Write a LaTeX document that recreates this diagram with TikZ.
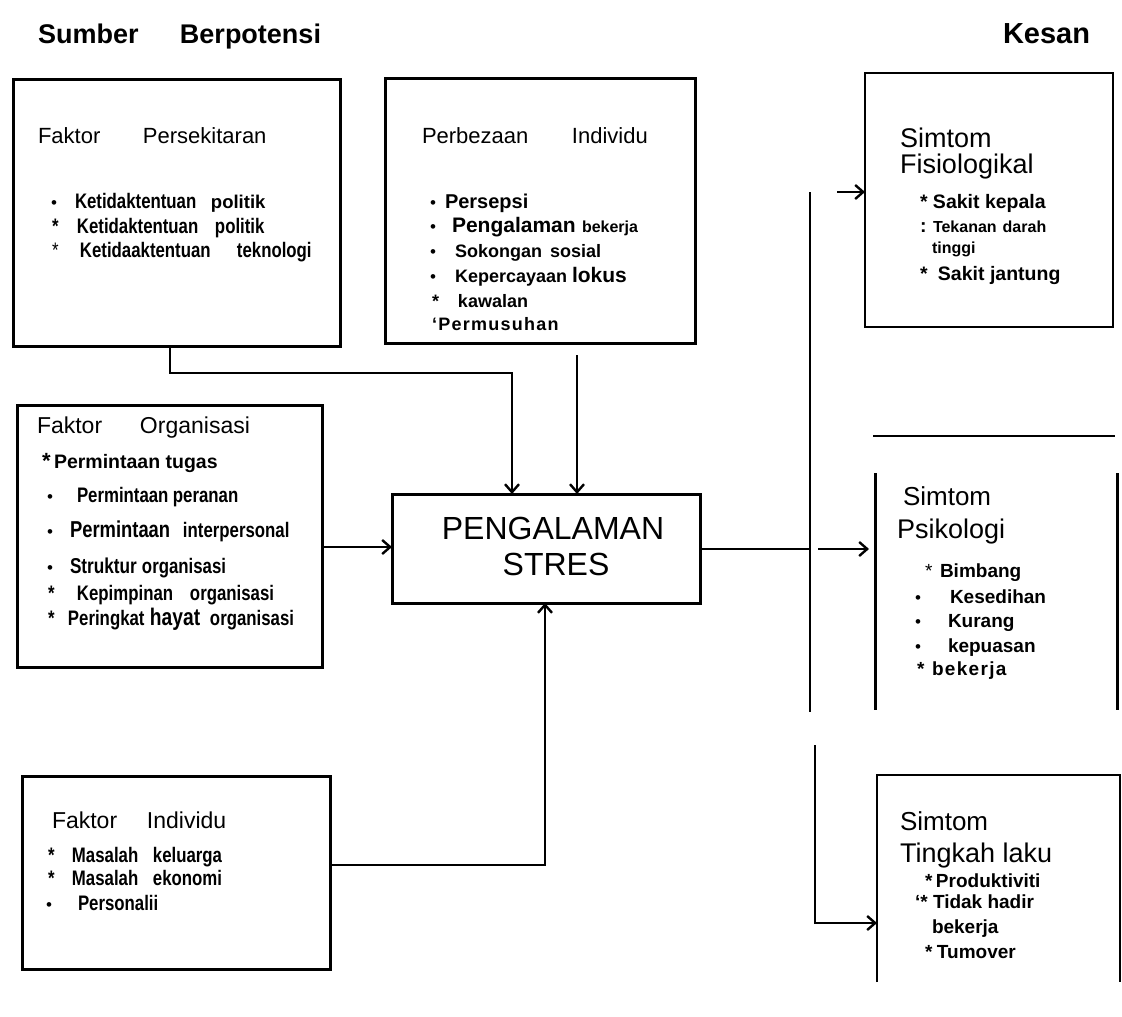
\documentclass[tikz,border=0pt]{standalone}
\usepackage{fontspec}
\setmainfont{Liberation Sans}
\newfontfamily\cf[FakeStretch=0.8]{Liberation Sans}
\usetikzlibrary{arrows.meta}
\newcommand\fsz[1]{\fontsize{#1}{#1}\selectfont}
\newcommand\lbx[2]{\makebox[#1pt][l]{#2}}
\newcommand\bul{{\normalfont\fsz{17}\textbullet}}
\tikzset{
  box/.style={draw, line width=3pt, inner sep=0pt, outer sep=0pt, anchor=north west},
  thinbox/.style={box, line width=2pt},
  openbox/.style={inner sep=0pt, outer sep=0pt, anchor=north west},
  txt/.style={anchor=base west, inner sep=0pt, outer sep=0pt},
  conn/.style={line width=2.6pt},
  arr/.style={line width=2.4pt, -{Straight Barb[length=8pt,width=14pt]}},
  ttl/.style={txt, font=\fsz{22}},
  ione/.style={txt, font=\cf\bfseries\fsz{21}},
  itwo/.style={txt, font=\bfseries\fsz{18}},
  ithree/.style={txt, font=\bfseries\fsz{19.5}},
  simt/.style={txt, font=\fsz{26}},
}
\begin{document}
\begin{tikzpicture}[x=1pt,y=-1pt]
\fill[white] (0,0) rectangle (1122,1017);
\useasboundingbox (0,0) rectangle (1122,1017);

% headings
\node[txt, font=\bfseries\fsz{27}] (h1) at (38,43) {\lbx{142}{Sumber}Berpotensi};
\node[txt, font=\bfseries\fsz{29}] (h2) at (1003,43) {Kesan};

% boxes
\node[box, minimum width=327pt, minimum height=267pt] (b1) at (13,79) {};
\node[box, minimum width=310pt, minimum height=265pt] (b2) at (385,78) {};
\node[thinbox, minimum width=248pt, minimum height=254pt] (b3) at (865,73) {};
\node[box, minimum width=305pt, minimum height=262pt] (b4) at (17,405) {};
\node[box, minimum width=308pt, minimum height=109pt] (c) at (392,494) {};
\node[box, minimum width=308pt, minimum height=193pt] (b5) at (22,776) {};
\node[openbox, minimum width=242pt, minimum height=237pt] (psi) at (875,473) {};
\node[openbox, minimum width=243pt, minimum height=207pt] (tl) at (877,775) {};
\draw[line width=3pt] (psi.north west) -- (psi.south west) (psi.north east) -- (psi.south east);
\draw[conn] ([xshift=-2pt,yshift=37pt]psi.north west) -- ([xshift=-2pt,yshift=37pt]psi.north east);
\draw[line width=2pt] (tl.south west) -- (tl.north west) -- (tl.north east) -- (tl.south east);

% box 1
\node[ttl] (b1t) at (38,143) {\lbx{105}{Faktor}Persekitaran};
\node[ione] (b1a) at (51,208) {\lbx{24}{\bul}\lbx{136}{Ketidaktentuan}{\normalfont\bfseries\fsz{18.5}politik}};
\node[ione] (b1b) at (52,233) {\lbx{25}{*}\lbx{138}{Ketidaktentuan}politik};
\node[ione] (b1c) at (52,257) {\lbx{28}{\mdseries *}\lbx{157}{Ketidaaktentuan}teknologi};

% box 2
\node[ttl] (b2t) at (422,143) {\lbx{150}{Perbezaan}Individu};
\node[itwo] (b2a) at (430,208) {\lbx{15}{\bul}{\fsz{20}Persepsi}};
\node[itwo] (b2b) at (430,232) {\lbx{22}{\bul}\lbx{130}{\fsz{21}Pengalaman}{\fsz{16}bekerja}};
\node[itwo] (b2c) at (430,257) {\lbx{25}{\bul}\lbx{95}{Sokongan}sosial};
\node[itwo] (b2d) at (430,282) {\lbx{25}{\bul}\lbx{117}{Kepercayaan}{\fsz{21}lokus}};
\node[itwo] (b2e) at (432,307) {\lbx{26}{*}kawalan};
\node[itwo] (b2f) at (432,330) {\addfontfeatures{LetterSpace=7}`Permusuhan};

% box 3
\node[txt, font=\fsz{27}] (b3t1) at (900,147) {Simtom};
\node[txt, font=\fsz{27}] (b3t2) at (900,173) {Fisiologikal};
\node[ithree] (b3a) at (920,208) {\lbx{13}{*}Sakit kepala};
\node[ithree] (b3b) at (920,232) {\lbx{13}{:}{\fsz{16}Tekanan\hspace{6pt}darah}};
\node[ithree] (b3c) at (932,253) {\fsz{16}tinggi};
\node[ithree] (b3d) at (920,280) {\lbx{18}{*}Sakit jantung};

% Psikologi
\node[simt] (p1) at (903,505) {Simtom};
\node[simt, font=\fsz{27}] (p2) at (897,538) {Psikologi};
\node[txt, font=\bfseries\fsz{19}] (pa) at (925,577) {\lbx{15}{\mdseries *}Bimbang};
\node[txt, font=\bfseries\fsz{19}] (pb) at (915,603) {\lbx{35}{\bul}Kesedihan};
\node[txt, font=\bfseries\fsz{19}] (pc) at (915,627) {\lbx{33}{\bul}Kurang};
\node[txt, font=\bfseries\fsz{19}] (pd) at (915,652) {\lbx{33}{\bul}kepuasan};
\node[txt, font=\bfseries\fsz{19}] (pe) at (917,675) {\lbx{15}{*}{\addfontfeatures{LetterSpace=7}bekerja}};

% Tingkah laku
\node[simt] (tt1) at (900,830) {Simtom};
\node[simt, font=\fsz{27}] (tt2) at (900,862) {Tingkah laku};
\node[txt, font=\bfseries\fsz{19}] (ta) at (925,887) {\lbx{11}{*}Produktiviti};
\node[txt, font=\bfseries\fsz{19}] (tb) at (915,908) {\lbx{18}{`*}Tidak hadir};
\node[txt, font=\bfseries\fsz{19}] (tc) at (932,933) {bekerja};
\node[txt, font=\bfseries\fsz{19}] (td) at (925,958) {\lbx{12}{*}Tumover};

% box 4
\node[txt, font=\fsz{23}] (b4t) at (37,433) {\lbx{103}{Faktor}Organisasi};
\node[txt, font=\bfseries\fsz{19.5}] (b4a) at (42,468) {\lbx{12}{\fsz{22}*}Permintaan tugas};
\node[ione] (b4b) at (47,502) {\lbx{30}{\bul}\lbx{96}{Permintaan}peranan};
\node[ione] (b4c) at (47,537) {\lbx{23}{\bul}\lbx{113}{\fsz{23}Permintaan}interpersonal};
\node[ione] (b4d) at (47,573) {\lbx{23}{\bul}\lbx{72}{\fsz{21.5}Struktur}organisasi};
\node[ione] (b4e) at (48,600) {\lbx{29}{*}\lbx{113}{Kepimpinan}organisasi};
\node[ione] (b4f) at (48,625) {\lbx{20}{*}\lbx{82}{Peringkat}\lbx{60}{\fsz{24}hayat}organisasi};

% box 5
\node[txt, font=\fsz{23}] (b5t) at (52,828) {\lbx{95}{Faktor}Individu};
\node[ione] (b5a) at (48,862) {\lbx{24}{*}\lbx{81}{Masalah}keluarga};
\node[ione] (b5b) at (48,885) {\lbx{24}{*}\lbx{81}{Masalah}ekonomi};
\node[ione] (b5c) at (46,910) {\lbx{32}{\bul}Personalii};

% center text
\node[anchor=base, inner sep=0pt, font=\fsz{32}] (ct1) at (553,539) {PENGALAMAN};
\node[anchor=base, inner sep=0pt, font=\fsz{32}] (ct2) at (556,575) {STRES};

% connectors
\coordinate (j1) at (170,373);
\coordinate (j2) at (512,373);
\draw[arr] (b1.south -| j1) -- (j1) -- (j2) -- (c.north -| j2);
\coordinate (j3) at (577,355);
\draw[arr] (j3) -- (c.north -| j3);
\coordinate (j4) at (330,547);
\draw[arr] (b4.east |- j4) -- (c.west |- j4);
\coordinate (j5) at (545,865);
\draw[arr] (b5.east |- j5) -- (j5) -- (c.south -| j5);
\coordinate (j6) at (810,549);
\draw[conn] (c.east |- j6) -- (j6);
\coordinate (v1) at (810,192);
\coordinate (v2) at (810,712);
\draw[conn] (v1) -- (v2);
\coordinate (j7) at (818,549);
\draw[arr, shorten >=6pt] (j7) -- (psi.west |- j7);
\coordinate (j8) at (837,192);
\draw[arr] (j8) -- (b3.west |- j8);
\coordinate (v3) at (815,745);
\coordinate (j9) at (815,923);
\draw[arr] (v3) -- (j9) -- (tl.west |- j9);
\end{tikzpicture}
\end{document}
